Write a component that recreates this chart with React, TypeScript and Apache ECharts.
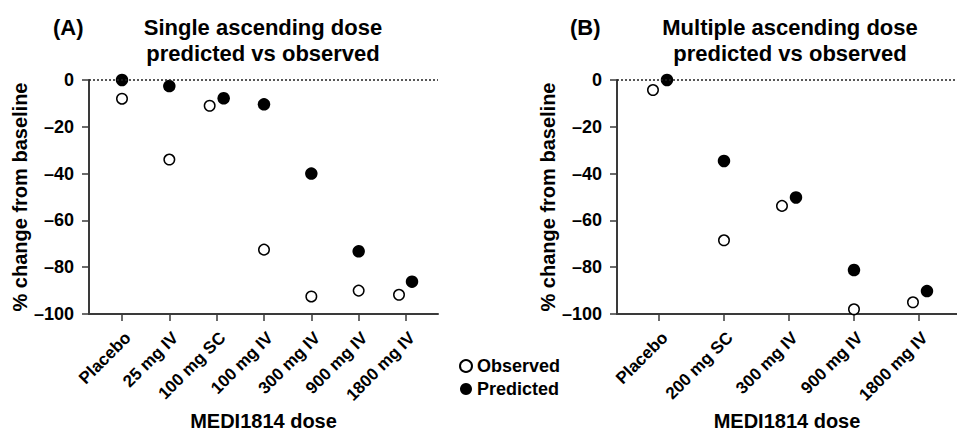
import React, { useEffect, useRef } from "react";
import * as echarts from "echarts";

const sadCategories = ["Placebo", "25 mg IV", "100 mg SC", "100 mg IV", "300 mg IV", "900 mg IV", "1800 mg IV"];
const sadObserved = [-8, -34, -11, -72.5, -92.5, -90, -91.8];
const sadPredicted = [0, -2.6, -7.8, -10.4, -40, -73.2, -86.2];

const madCategories = ["Placebo", "200 mg SC", "300 mg IV", "900 mg IV", "1800 mg IV"];
const madObserved = [-4.3, -68.5, -53.8, -98, -95];
const madPredicted = [0, -34.6, -50.2, -81.2, -90.2];

const yTicks = [0, -20, -40, -60, -80, -100];

// pixel jitter used to separate overlapping markers (style only)
const sadObsJitter = [0, 0, -7, 0, 0, 0, -7];
const sadPredJitter = [0, 0, 7, 0, 0, 0, 6];
const madObsJitter = [-6, 0, -7, 0, -6];
const madPredJitter = [8, 0, 7, 0, 8];

const FONT = "'Liberation Sans', Arial, Helvetica, sans-serif";
const AXIS_COLOR = "#3a3a3a";

function xAxisFor(cats: string[], gridIndex: number, min: number, max: number) {
  const idx = cats.map((_, i) => i);
  return {
    type: "value",
    gridIndex,
    min,
    max,
    name: "MEDI1814 dose",
    nameLocation: "middle",
    nameGap: 94,
    nameTextStyle: { fontFamily: FONT, fontWeight: "bold", fontSize: 20, color: "#000" },
    axisLine: { show: true, onZero: false, lineStyle: { color: AXIS_COLOR, width: 2 } },
    axisTick: { show: true, customValues: idx, length: 7, lineStyle: { color: AXIS_COLOR, width: 1.5 } },
    axisLabel: {
      show: true,
      customValues: idx,
      rotate: 45,
      margin: 15,
      verticalAlign: "top",
      fontFamily: FONT,
      fontWeight: "bold",
      fontSize: 17,
      color: "#000",
      formatter: (v: number) => cats[Math.round(v)] ?? "",
    },
    splitLine: { show: false },
  };
}

function yAxisFor(gridIndex: number) {
  return {
    type: "value",
    gridIndex,
    min: -100,
    max: 0,
    interval: 20,
    name: "% change from baseline",
    nameLocation: "middle",
    nameGap: 58,
    nameTextStyle: { fontFamily: FONT, fontWeight: "bold", fontSize: 20, color: "#000" },
    axisLine: { show: true, onZero: false, lineStyle: { color: AXIS_COLOR, width: 2 } },
    axisTick: { show: true, inside: false, length: 7, lineStyle: { color: AXIS_COLOR, width: 1.5 } },
    axisLabel: {
      margin: 15,
      fontFamily: FONT,
      fontWeight: "bold",
      fontSize: 18,
      color: "#000",
      formatter: (v: number) => (yTicks.includes(v) ? (v < 0 ? "\u2013" + Math.abs(v) : String(v)) : ""),
    },
    splitLine: { show: false },
  };
}

function seriesFor(obs: number[], pred: number[], obsJ: number[], predJ: number[], axisIndex: number) {
  return [
    {
      type: "scatter",
      name: "Observed",
      xAxisIndex: axisIndex,
      yAxisIndex: axisIndex,
      z: 3,
      symbol: "circle",
      symbolSize: 10.5,
      itemStyle: { color: "#fff", borderColor: "#000", borderWidth: 1.5, opacity: 1 },
      data: obs.map((v, i) => ({ value: [i, v], symbolOffset: [obsJ[i], 0] })),
      markLine: {
        silent: true,
        symbol: ["none", "none"],
        label: { show: false },
        lineStyle: { type: [2, 2], color: "#222", width: 1.6 },
        data: [{ yAxis: 0 }],
      },
    },
    {
      type: "scatter",
      name: "Predicted",
      xAxisIndex: axisIndex,
      yAxisIndex: axisIndex,
      z: 4,
      symbol: "circle",
      symbolSize: 12.5,
      itemStyle: { color: "#000", opacity: 1 },
      data: pred.map((v, i) => ({ value: [i, v], symbolOffset: [predJ[i], 0] })),
    },
  ];
}

export default function App() {
  const ref = useRef<HTMLDivElement>(null);
  useEffect(() => {
    if (!ref.current) return;
    const chart = echarts.init(ref.current, undefined, { renderer: "svg" });
    chart.setOption({
      animation: false,
      backgroundColor: "#fff",
      textStyle: { fontFamily: FONT },
      grid: [
        { left: 89, top: 80, width: 349, height: 234, containLabel: false, outerBoundsMode: "none" },
        { left: 617, top: 80, width: 340, height: 234, containLabel: false, outerBoundsMode: "none" },
      ],
      xAxis: [xAxisFor(sadCategories, 0, -0.697, 6.676), xAxisFor(madCategories, 1, -0.646, 4.585)],
      yAxis: [yAxisFor(0), yAxisFor(1)],
      legend: {
        orient: "vertical",
        left: 454,
        top: 352,
        itemWidth: 12,
        itemHeight: 12,
        itemGap: 5,
        icon: "circle",
        data: ["Observed", "Predicted"],
        textStyle: { fontFamily: FONT, fontWeight: "bold", fontSize: 18, color: "#000" },
      },
      graphic: [
        {
          type: "text",
          left: 53,
          top: 16,
          style: { text: "(A)", font: `bold 22px ${FONT}`, fill: "#000" },
        },
        {
          type: "text",
          x: 263,
          y: 40,
          style: {
            text: "Single ascending dose\npredicted vs observed",
            font: `bold 22px ${FONT}`,
            fill: "#000",
            align: "center",
            verticalAlign: "middle",
            lineHeight: 26,
          },
        },
        {
          type: "text",
          left: 570,
          top: 16,
          style: { text: "(B)", font: `bold 22px ${FONT}`, fill: "#000" },
        },
        {
          type: "text",
          x: 790,
          y: 40,
          style: {
            text: "Multiple ascending dose\npredicted vs observed",
            font: `bold 22px ${FONT}`,
            fill: "#000",
            align: "center",
            verticalAlign: "middle",
            lineHeight: 26,
          },
        },
      ],
      series: [
        ...seriesFor(sadObserved, sadPredicted, sadObsJitter, sadPredJitter, 0),
        ...seriesFor(madObserved, madPredicted, madObsJitter, madPredJitter, 1),
      ],
    });
    return () => chart.dispose();
  }, []);
  return (
    <div
      ref={ref}
      style={{ position: "fixed", left: 0, top: 0, width: 957, height: 432, background: "#fff" }}
    />
  );
}
